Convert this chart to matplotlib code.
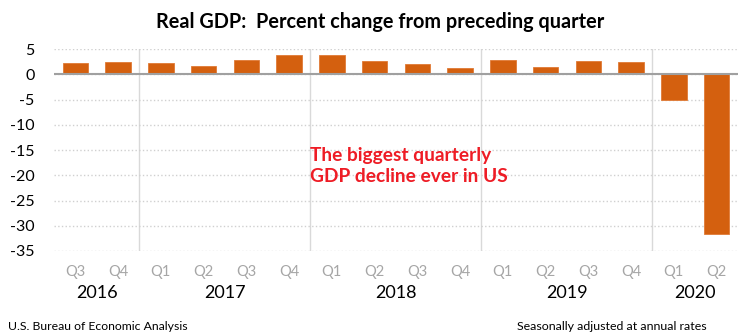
import matplotlib.pyplot as plt
import matplotlib.transforms as mtransforms

plt.rcParams['font.family'] = ['Lato', 'DejaVu Sans']

quarters = ['Q3', 'Q4', 'Q1', 'Q2', 'Q3', 'Q4', 'Q1', 'Q2', 'Q3', 'Q4',
            'Q1', 'Q2', 'Q3', 'Q4', 'Q1', 'Q2']
gdp = [2.2, 2.5, 2.3, 1.7, 2.9, 3.9, 3.8, 2.7, 2.1, 1.3,
       2.9, 1.5, 2.6, 2.4, -5.0, -31.7]
years = ['2016', '2017', '2018', '2019', '2020']
year_start = [0, 2, 6, 10, 14]
year_end = [1, 5, 9, 13, 15]

fig = plt.figure(figsize=(7.53, 3.36), dpi=100)
ax = fig.add_axes([0.0717, 0.253, 0.9083, 0.601])

x = list(range(len(gdp)))
ax.bar(x, gdp, width=0.6, color='#D4600F', edgecolor='#E07A35', linewidth=0.6, zorder=3)

ax.set_xlim(-0.5, len(gdp) - 0.5)
ax.set_ylim(-35, 5)
ax.set_yticks(range(-35, 6, 5))
ax.set_yticklabels([str(v) for v in range(-35, 6, 5)], fontsize=11.5)
ax.set_xticks(x)
ax.set_xticklabels(quarters, fontsize=10.5, color='#A6A6A6')
ax.tick_params(axis='both', length=0)
ax.tick_params(axis='y', pad=14)
ax.tick_params(axis='x', pad=10)

for s in ax.spines.values():
    s.set_visible(False)

ax.yaxis.grid(True, linestyle=':', color='#D0D0D0', linewidth=1, zorder=0)
ax.axhline(0, color='#A0A0A0', linewidth=1.5, zorder=4)
for s in year_start[1:]:
    ax.axvline(s - 0.5, color='#D9D9D9', linewidth=1, zorder=1)

trans = mtransforms.blended_transform_factory(ax.transData, fig.transFigure)
for yr, a, b in zip(years, year_start, year_end):
    ax.text((a + b) / 2, 1 - 293 / 336, yr, transform=trans, ha='center', va='center',
            fontsize=13)

fig.text(0.505, 1 - 22 / 336, 'Real GDP:  Percent change from preceding quarter',
         ha='center', va='center', fontsize=14.3, fontweight='bold')
fig.text(310 / 753, 1 - 166 / 336, 'The biggest quarterly\nGDP decline ever in US',
         ha='left', va='center', fontsize=13.8, fontweight='bold', color='#EE1C25',
         linespacing=1.3)
fig.text(8 / 753, 1 - 326 / 336, 'U.S. Bureau of Economic Analysis',
         ha='left', va='center', fontsize=8.8)
fig.text(707 / 753, 1 - 326 / 336, 'Seasonally adjusted at annual rates',
         ha='right', va='center', fontsize=8.9)

fig.savefig('out.png', dpi=100)
